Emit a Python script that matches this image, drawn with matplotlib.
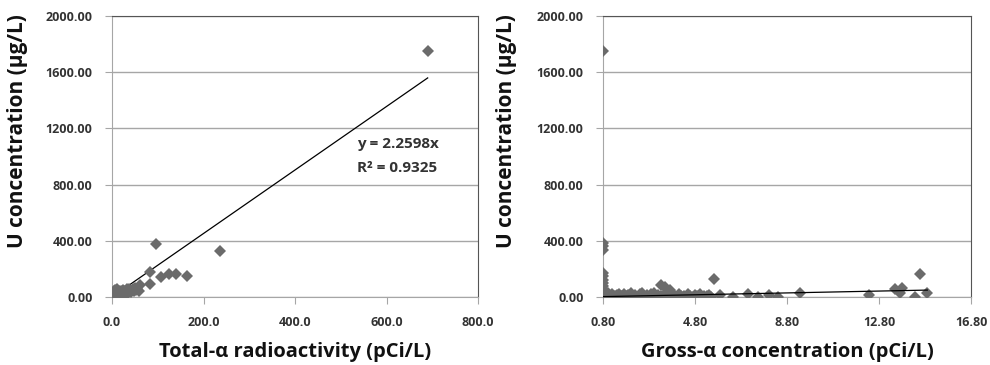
import numpy as np
import matplotlib
matplotlib.use("Agg")
import matplotlib.pyplot as plt

plt.rcParams["font.family"] = ["Open Sans", "DejaVu Sans"]

# left panel: total-alpha radioactivity vs U concentration
total_alpha = [690, 97, 235, 83, 83, 108, 125, 140, 163,
               1, 2, 3, 3, 4, 5, 6, 6, 7, 8, 9, 10, 10, 12, 13, 14, 15, 16,
               18, 19, 20, 22, 23, 25, 26, 28, 30, 32, 34, 36, 38, 40, 42,
               45, 48, 50, 52, 55, 58, 61]
u_left = [1750, 377, 330, 176, 92, 145, 164, 164, 149,
          2, 8, 0, 25, 40, 12, 3, 50, 20, 30, 5, 15, 55, 35, 8, 22, 45, 10,
          30, 18, 40, 25, 50, 35, 20, 45, 30, 55, 40, 25, 60, 45, 35,
          55, 40, 65, 50, 60, 45, 85]
slope_left = 2.2598
r2_left = 0.9325

# right panel: gross-alpha concentration vs U concentration
gross_alpha = [0.8, 0.8, 0.8, 0.8, 0.8, 0.8, 0.8, 0.8, 0.8, 0.8, 0.8, 0.8,
               0.8, 0.8, 0.8, 0.8, 0.8,
               0.9, 1.0, 1.0, 1.1, 1.2, 1.2, 1.3, 1.4, 1.5, 1.5, 1.6, 1.7,
               1.8, 1.9, 2.0, 2.0, 2.1, 2.2, 2.3, 2.4, 2.5, 2.5, 2.6, 2.7,
               2.8, 2.9, 3.0, 3.0, 3.1, 3.2, 3.3, 3.4, 3.5, 3.6, 3.7, 3.8,
               3.9, 4.0, 4.1, 4.2, 4.3, 4.4, 4.5, 4.6, 4.7, 4.8, 4.9, 5.0,
               5.1, 5.2, 5.3, 5.4, 5.5,
               3.3, 3.5, 3.7, 5.64,
               5.89, 6.44, 7.12, 7.55, 8.03, 8.42, 9.37, 12.38, 13.5, 13.79,
               13.71, 14.36, 14.58, 14.9]
u_right = [1750, 382, 360, 334, 168, 150, 121, 100, 80, 60, 45, 30,
           20, 12, 5, 2, 0,
           15, 5, 25, 10, 2, 20, 8, 15, 3, 22, 10, 18,
           5, 12, 2, 25, 8, 15, 3, 20, 10, 28, 5, 12,
           2, 18, 8, 25, 3, 15, 10, 5, 20, 2, 12, 8,
           15, 3, 22, 5, 10, 2, 18, 8, 3, 12, 5, 20,
           2, 10, 5, 15, 3,
           88, 70, 52, 126,
           14, 2, 19, 2, 14, 2, 26, 14, 55, 62,
           26, 2, 161, 26]
slope_right = 3.3

marker_color = "#6b6b6b"
grid_color = "#a6a6a6"
text_color = "#333333"

fig = plt.figure(figsize=(9.9, 3.65), dpi=100)
ax1 = fig.add_axes([112 / 990, 1 - 297 / 365, 366 / 990, 281 / 365])
ax2 = fig.add_axes([603 / 990, 1 - 297 / 365, 368 / 990, 281 / 365])


def style(ax, xlim, xticks, xfmt, xlabel, ylab_x):
    ax.set_xlim(*xlim)
    ax.set_ylim(0, 2000)
    ax.set_xticks(xticks)
    ax.set_xticklabels([xfmt.format(t) for t in xticks])
    ax.set_yticks([0, 400, 800, 1200, 1600, 2000])
    ax.set_yticklabels(["{:.2f}".format(t) for t in [0, 400, 800, 1200, 1600, 2000]])
    ax.yaxis.grid(True, color=grid_color, linewidth=1)
    ax.set_axisbelow(True)
    for s in ["left", "bottom"]:
        ax.spines[s].set_color(grid_color)
    for s in ["top", "right"]:
        ax.spines[s].set_color("#555555")
    ax.tick_params(axis="both", direction="out", length=5, color=grid_color,
                   labelsize=9, labelcolor=text_color, pad=9)
    for lab in ax.get_xticklabels() + ax.get_yticklabels():
        lab.set_fontweight("bold")
    ax.set_xlabel(xlabel, fontsize=14.5, fontweight="bold", color="#111111")
    ax.xaxis.set_label_coords(0.5, -0.16)
    ax.set_ylabel("U concentration (μg/L)", fontsize=15, fontweight="bold",
                  color="#111111")
    ax.yaxis.set_label_coords(ylab_x, 0.59)


# left
x_fit = np.array([0, max(total_alpha)])
ax1.plot(x_fit, slope_left * x_fit, color="black", linewidth=0.9, zorder=2)
ax1.plot(total_alpha, u_left, "D", color=marker_color, markersize=6.5,
         markeredgewidth=0, zorder=3)
ax1.text(535, 1090, "y = 2.2598x", fontsize=11, fontweight="bold",
         color=text_color, va="center")
ax1.text(535, 920, "R² = {:.4f}".format(r2_left), fontsize=11,
         fontweight="bold", color=text_color, va="center")
style(ax1, (0, 800), [0, 200, 400, 600, 800], "{:.1f}",
      "Total-α radioactivity (pCi/L)", -0.23)

# right
x_fit2 = np.array([0.8, max(gross_alpha)])
ax2.plot(gross_alpha, u_right, "D", color=marker_color, markersize=6.5,
         markeredgewidth=0, zorder=3)
ax2.plot(x_fit2, slope_right * x_fit2, color="black", linewidth=0.9, zorder=4)
style(ax2, (0.8, 16.8), [0.8, 4.8, 8.8, 12.8, 16.8], "{:.2f}",
      "Gross-α concentration (pCi/L)", -0.234)

fig.savefig("out.png", dpi=100)
